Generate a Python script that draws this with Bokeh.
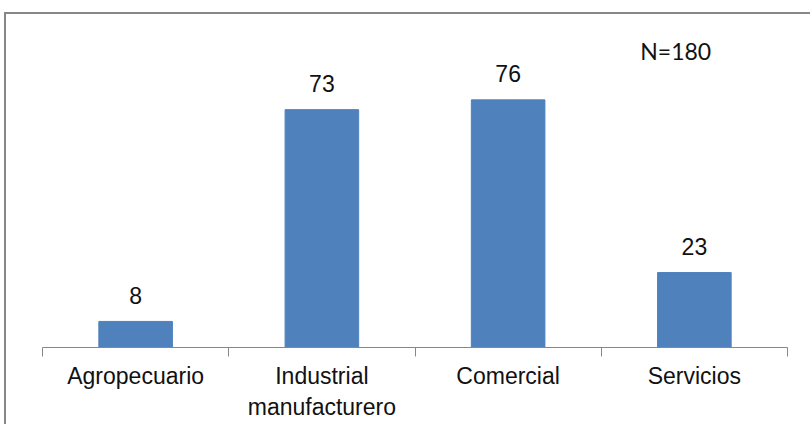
from bokeh.plotting import figure
from bokeh.models import Range1d, FixedTicker, Label, ColumnDataSource
from bokeh.core.properties import value
from bokeh.embed import file_html
from bokeh.resources import INLINE

categories = ["Agropecuario", "Industrial\nmanufacturero", "Comercial", "Servicios"]
values = [8, 73, 76, 23]
note = "N=180"

n = len(categories)
centers = [i + 0.5 for i in range(n)]
src = ColumnDataSource(dict(x=centers, top=values, label=[str(v) for v in values]))

FONT = "Liberation Sans"
GREY = "#878787"

p = figure(width=806, height=412, output_backend="svg", toolbar_location=None,
           x_range=Range1d(0, n), y_range=Range1d(0, 102.2),
           min_border_left=36, min_border_right=25, min_border_top=0, min_border_bottom=79,
           margin=(12, 0, 0, 4))
p.styles = {"border-left": f"2px solid {GREY}", "border-top": f"2px solid {GREY}"}
p.outline_line_color = None
p.background_fill_color = "white"
p.border_fill_color = "white"
p.xgrid.visible = False
p.ygrid.visible = False
p.yaxis.visible = False

p.vbar(x="x", top="top", width=0.395, bottom=0, source=src,
       fill_color="#4F81BD", line_color="#4F81BD")
p.text(x="x", y="top", text="label", source=src, y_offset=-26,
       text_align="center", text_baseline="alphabetic",
       text_font=value(FONT), text_font_size="23px", text_color="#111111")

ax = p.xaxis[0]
ax.ticker = FixedTicker(ticks=centers, minor_ticks=list(range(n + 1)))
ax.major_label_overrides = {c: lab for c, lab in zip(centers, categories)}
ax.major_tick_line_color = None
ax.major_tick_in = 0
ax.major_tick_out = 0
ax.minor_tick_in = 0
ax.minor_tick_out = 9
ax.minor_tick_line_color = GREY
ax.axis_line_color = GREY
ax.axis_line_width = 1
ax.major_label_text_font = FONT
ax.major_label_text_font_size = "23px"
ax.major_label_text_color = "#111111"
ax.major_label_standoff = 6

p.add_layout(Label(x=3.4, y=91, text=note, text_align="center", text_baseline="middle",
                   text_font="Lato", text_font_size="23px", text_color="#111111"))

open("out.html", "w").write(file_html(p, INLINE))
